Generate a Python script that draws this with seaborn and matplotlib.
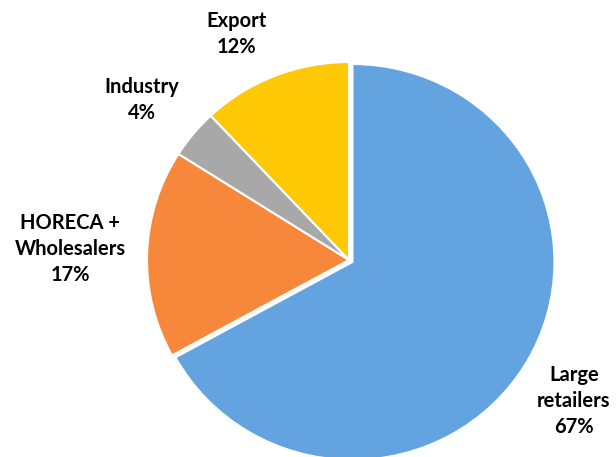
import matplotlib
matplotlib.use("Agg")
import matplotlib.pyplot as plt
import seaborn as sns

categories = ["Large\nretailers", "HORECA +\nWholesalers", "Industry", "Export"]
values = [67, 17, 4, 12]
colors_hex = ["#62A3E0", "#F7883B", "#A8A8A8", "#FFC805"]

sns.set_theme(style="white")
plt.rcParams['font.family'] = ['Lato', 'DejaVu Sans']

W, H = 616, 457
sy = 0.98  # slight vertical squash as in reference
fig = plt.figure(figsize=(W / 100, H / 100), dpi=100)
ax = fig.add_axes([0, 0, 1, 1])
ax.axis("off")


def to_data(px, py):
    return px, (H - py) / sy


cx, cy = to_data(349, 260)
R = 202
palette = sns.color_palette(colors_hex)
explode = [4, 0, 0, 0]
wedges, _ = ax.pie(values, colors=palette, startangle=90, counterclock=False,
                   center=(cx, cy), radius=R, explode=explode,
                   wedgeprops=dict(edgecolor="white", linewidth=1.5))
ax.set_aspect("auto")
ax.set_xlim(0, W)
ax.set_ylim(0, H / sy)

label_pos = [(574, 401), (70, 249), (142, 100), (236, 34)]
for cat, v, (px, py) in zip(categories, values, label_pos):
    x, y = to_data(px, py)
    ax.text(x, y, f"{cat}\n{v}%", ha="center", va="center",
            fontsize=14.5, fontweight="bold", color="black", linespacing=1.35)

fig.savefig("out.png", dpi=100)
